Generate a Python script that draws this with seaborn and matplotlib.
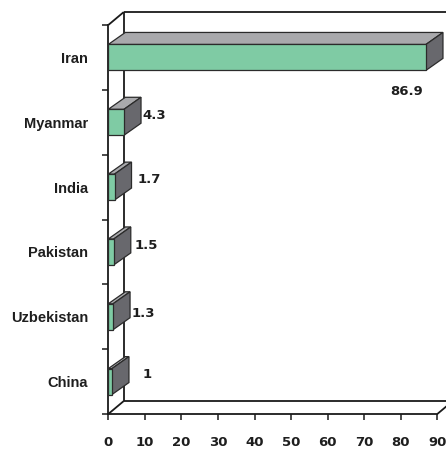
import matplotlib
matplotlib.use("Agg")
import matplotlib.pyplot as plt
import pandas as pd
import seaborn as sns
from matplotlib.patches import Polygon

# Data
countries = ["Iran", "Myanmar", "India", "Pakistan", "Uzbekistan", "China"]
shares = [86.9, 4.3, 1.7, 1.5, 1.3, 1.0]
share_labels = ["86.9", "4.3", "1.7", "1.5", "1.3", "1"]
x_ticks = [0, 10, 20, 30, 40, 50, 60, 70, 80, 90]

# Value-label placement (pixels from bar end / category centre; +y is down)
label_offsets_px = [(-19, 34), (30, -7), (35, -8), (32, -6), (30, -3), (35, -7)]

# Style
FRONT = "#7fcba4"
TOP = "#a9a9ac"
SIDE = "#68686d"
EDGE = "#2b2b2b"
WALL = "#1a1a1a"
TEXT = "#1e1e1e"

sns.set_style("white")
plt.rcParams["font.family"] = ["DejaVu Sans"]

W, H, DPI = 4.46, 4.49, 100
fig = plt.figure(figsize=(W, H), dpi=DPI)
ax_left, ax_right, ax_top, ax_bottom = 108.3, 437.3, 25, 414  # pixels
ax = fig.add_axes([ax_left / (W * DPI), 1 - ax_bottom / (H * DPI),
                   (ax_right - ax_left) / (W * DPI), (ax_bottom - ax_top) / (H * DPI)])

df = pd.DataFrame({"country": countries, "share": shares})
sns.barplot(data=df, x="share", y="country", orient="h", color=FRONT,
            saturation=1, width=0.4, edgecolor=EDGE, linewidth=0.9,
            ax=ax, zorder=4)

n = len(countries)
ax.set_xlim(0, 90)
ax.set_ylim(n - 0.5, -0.5)

# pixel -> data conversions for the 3-D depth
px_x = (ax_right - ax_left) / 90.0
px_y = (ax_bottom - ax_top) / n
bar_dx, bar_dy = 17 / px_x, 12 / px_y
wall_dx, wall_dy = 15.5 / px_x, 13 / px_y

# top and side faces of each bar
for p in ax.patches[:n]:
    x0, y0, w, h = p.get_x(), p.get_y(), p.get_width(), p.get_height()
    x1, y1 = x0 + w, y0 + h
    top = Polygon([(x0, y0), (x1, y0), (x1 + bar_dx, y0 - bar_dy), (x0 + bar_dx, y0 - bar_dy)],
                  closed=True, facecolor=TOP, edgecolor=EDGE, linewidth=0.9, zorder=3,
                  clip_on=False)
    side = Polygon([(x1, y0), (x1, y1), (x1 + bar_dx, y1 - bar_dy), (x1 + bar_dx, y0 - bar_dy)],
                   closed=True, facecolor=SIDE, edgecolor=EDGE, linewidth=0.9, zorder=3,
                   clip_on=False)
    ax.add_patch(top)
    ax.add_patch(side)

# back walls and floor edges
yt, yb = -0.5, n - 0.5
wall_kw = dict(color=WALL, linewidth=1.3, clip_on=False, zorder=1, solid_capstyle="butt")
ax.plot([wall_dx, wall_dx], [yt - wall_dy, yb - wall_dy], **wall_kw)
ax.plot([wall_dx, 90 + wall_dx + 5], [yt - wall_dy, yt - wall_dy], **wall_kw)
ax.plot([wall_dx, 90 + wall_dx + 5], [yb - wall_dy, yb - wall_dy], **wall_kw)
ax.plot([0, wall_dx], [yt, yt - wall_dy], **wall_kw)
ax.plot([0, wall_dx], [yb, yb - wall_dy], **wall_kw)
ax.plot([90, 90 + wall_dx], [yb, yb - wall_dy], **wall_kw)

# front axes
for s in ["top", "right"]:
    ax.spines[s].set_visible(False)
for s in ["left", "bottom"]:
    ax.spines[s].set_color(WALL)
    ax.spines[s].set_linewidth(1.3)
    ax.spines[s].set_zorder(2)

ax.set_xticks(x_ticks)
ax.set_xticklabels([str(t) for t in x_ticks], fontsize=9.5, fontweight="bold", color=TEXT)
ax.tick_params(axis="x", direction="out", length=4, width=1.1, color=WALL, pad=11.5, bottom=True)

ax.set_yticks([i - 0.5 for i in range(n + 1)])
ax.set_yticklabels([])
ax.set_yticks(range(n), minor=True)
ax.set_yticklabels(countries, minor=True, fontsize=10.5, fontweight="bold",
                   color=TEXT, family=["Liberation Sans", "DejaVu Sans"])
ax.tick_params(axis="y", which="major", direction="out", length=4.5, width=1.1, color=WALL, left=True)
ax.tick_params(axis="y", which="minor", length=0, pad=14.5, left=True)
ax.set_xlabel("")
ax.set_ylabel("")

# value labels
for i, (v, lab) in enumerate(zip(shares, share_labels)):
    dx, dy = label_offsets_px[i]
    ax.annotate(lab, xy=(v, i), xytext=(dx, -dy), textcoords="offset pixels",
                ha="center", va="center", fontsize=9.5, fontweight="bold",
                color=TEXT, annotation_clip=False)

fig.savefig("out.png", dpi=DPI, facecolor="white")
